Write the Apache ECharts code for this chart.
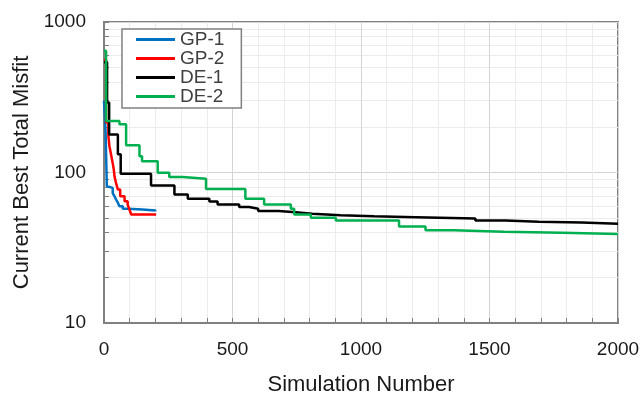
<!DOCTYPE html>
<html>
<head>
<meta charset="utf-8">
<script src="https://cdn.jsdelivr.net/npm/echarts@6/dist/echarts.min.js"></script>
<style>
html,body{margin:0;padding:0;background:#fff;}
#chart{width:644px;height:396px;}
</style>
</head>
<body>
<div id="chart"></div>
<script>
// Series names
const seriesNames = ['GP-1', 'GP-2', 'DE-1', 'DE-2'];

// GP-1 (step values: value starts at given simulation number)
const gp1X = [0, 6, 11, 16, 34, 41, 47, 54, 60, 73, 92, 150, 200];
const gp1Y = [300, 190, 81, 79, 73, 69.5, 66, 63, 59.6, 57.5, 56.8, 56.0, 55.3];

// GP-2
const gp2X = [0, 8, 17, 21, 28, 34, 38, 41, 47, 54, 63, 80, 92, 99, 106, 203];
const gp2Y = [560, 215, 175, 150, 130, 115, 105, 94, 85, 77, 69.5, 64.4, 61.2, 56.8, 52.5, 52.5];

// DE-1
const de1X = [0, 12, 20, 54, 65, 183, 274, 326, 410, 442, 526, 565, 600, 680, 746, 810, 921, 1050, 1212, 1445, 1562, 1691, 1858, 2000];
const de1Y = [540, 292, 179, 132, 98, 82, 71.4, 66.8, 64.1, 61.2, 58.9, 57.5, 55.5, 54.4, 53.3, 52.0, 51.2, 50.5, 49.5, 48.0, 47.0, 46.5, 45.6, 45.6];

// DE-2
const de2X = [0, 8, 60, 86, 138, 148, 209, 254, 306, 397, 550, 623, 727, 740, 805, 902, 1148, 1251, 1361, 1555, 1782, 2000];
const de2Y = [644, 220, 209, 152, 128, 119, 99.5, 93.5, 91, 77.8, 66.8, 61.2, 57.4, 52.5, 50.1, 48.0, 43.7, 41.4, 40.4, 39.8, 39.0, 39.0];

const colors = ['#0070C0', '#FF0000', '#000000', '#00B050'];

// Axis ticks
const xMin = 0, xMax = 2000, xInterval = 500;
const yMin = 10, yMax = 1000;

const xs = [gp1X, gp2X, de1X, de2X];
const ys = [gp1Y, gp2Y, de1Y, de2Y];

const font = 'Liberation Sans, Arial, sans-serif';

const chart = echarts.init(document.getElementById('chart'), null, {renderer: 'canvas'});
chart.setOption({
  animation: false,
  backgroundColor: '#ffffff',
  grid: {
    left: 104, right: 26, top: 22, bottom: 73,
    outerBoundsMode: 'none',
    containLabel: false,
    show: true, borderColor: '#808080', borderWidth: 2, backgroundColor: 'transparent'
  },
  legend: {
    orient: 'vertical',
    left: 122, top: 29,
    data: seriesNames.map(n => ({name: n, icon: 'rect'})),
    itemWidth: 39, itemHeight: 3, itemGap: 0,
    padding: [1, 17, 2, 14],
    borderColor: '#808080', borderWidth: 1.5,
    backgroundColor: '#ffffff',
    textStyle: {fontFamily: font, fontSize: 19, color: '#404040', lineHeight: 19}
  },
  xAxis: {
    type: 'value', min: xMin, max: xMax, interval: xInterval,
    name: 'Simulation Number', nameLocation: 'middle', nameGap: 51,
    nameTextStyle: {fontFamily: font, fontSize: 22, color: '#1a1a1a'},
    axisLine: {show: true, onZero: false, lineStyle: {color: '#808080', width: 2}},
    axisTick: {show: true, inside: true, length: 5, lineStyle: {color: '#808080'}},
    minorTick: {show: true, splitNumber: 5, length: 5, lineStyle: {color: '#808080'}},
    axisLabel: {fontFamily: font, fontSize: 19, color: '#1a1a1a', margin: 17, formatter: v => String(v)},
    splitLine: {show: true, lineStyle: {color: '#d4d4d4', width: 1}},
    minorSplitLine: {show: true, lineStyle: {color: '#ececec', width: 1}}
  },
  yAxis: {
    type: 'log', logBase: 10, min: yMin, max: yMax,
    name: 'Current Best Total Misfit', nameLocation: 'middle', nameGap: 71,
    nameTextStyle: {fontFamily: font, fontSize: 22, color: '#1a1a1a'},
    axisLine: {show: true, lineStyle: {color: '#808080', width: 2}},
    axisTick: {show: true, inside: true, length: 5, lineStyle: {color: '#808080'}},
    minorTick: {show: true, splitNumber: 9, length: 5, lineStyle: {color: '#808080'}},
    axisLabel: {fontFamily: font, fontSize: 19, color: '#1a1a1a', margin: 18, formatter: v => String(v)},
    splitLine: {show: true, lineStyle: {color: '#d4d4d4', width: 1}},
    minorSplitLine: {show: true, lineStyle: {color: '#ececec', width: 1}}
  },
  series: seriesNames.map((name, i) => ({
    name: name,
    type: 'line',
    step: 'end',
    symbol: 'none',
    data: xs[i].map((x, j) => [x, ys[i][j]]),
    lineStyle: {color: colors[i], width: 2.5},
    itemStyle: {color: colors[i]},
    z: 2 + i
  }))
});
</script>
</body>
</html>
